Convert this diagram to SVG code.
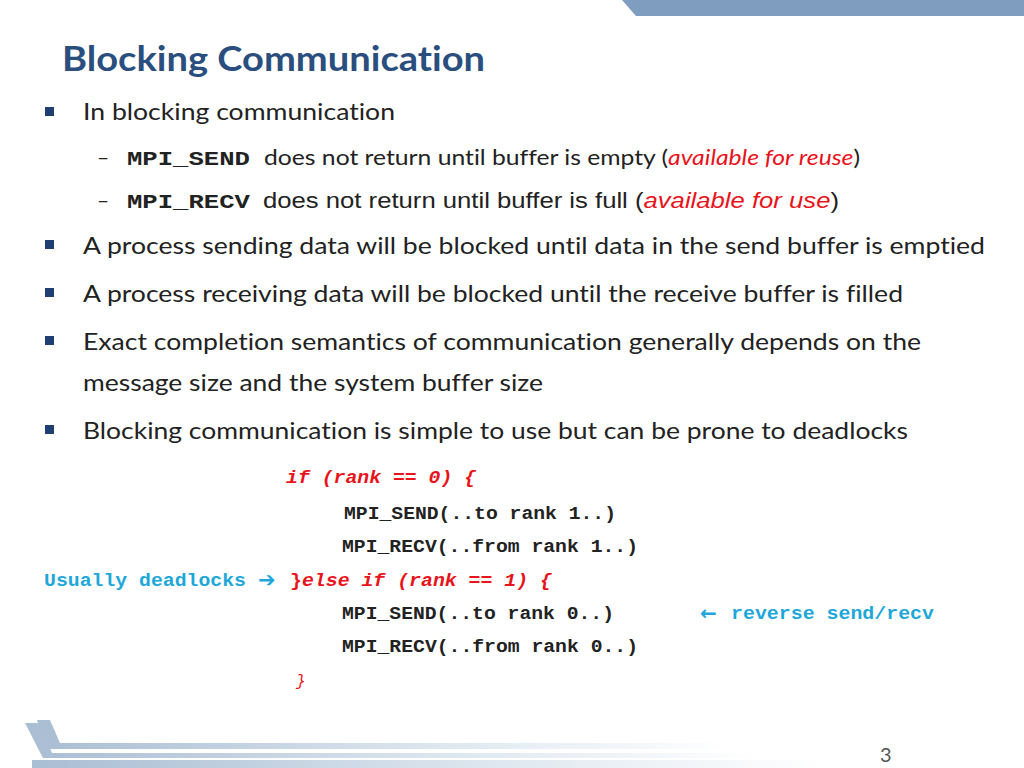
<svg xmlns="http://www.w3.org/2000/svg" width="1024" height="768" viewBox="0 0 1024 768">
<defs>
<linearGradient id="fade" x1="0" y1="0" x2="1" y2="0">
<stop offset="0" stop-color="#a9bdd3"/><stop offset="0.6" stop-color="#dfe8f0"/><stop offset="1" stop-color="#ffffff"/>
</linearGradient>
</defs>
<style>
text{font-variant-ligatures:none}
.b{font-family:Lato,"Open Sans",sans-serif;font-size:24px;fill:#222}
.s{font-family:Lato,"Open Sans",sans-serif;font-size:21px;fill:#222}
.m{font-family:"Liberation Mono",monospace;font-weight:bold;fill:#222}
.r{fill:#e8141b}
.c{fill:#1ea7d8}
.bul{fill:#1f3f73}
</style>
<rect width="1024" height="768" fill="#fff"/>
<polygon points="622,0 1024,0 1024,16 636,16" fill="#7f9dbf"/>
<polygon points="37,720 50,720 60,743 730,743 730,749 46,749" fill="url(#fade)"/>
<polygon points="25,723 40,723 52,753 760,753 760,758 43,758" fill="url(#fade)"/>
<polygon points="32,760 820,760 820,768 32,768" fill="url(#fade)"/>
<text x="62" y="71" font-family="Lato,'Open Sans',sans-serif" font-weight="bold" font-size="34" fill="#2a4f7f" textLength="423" lengthAdjust="spacingAndGlyphs">Blocking Communication</text>
<g id="bullets">
<rect x="45" y="107" width="9" height="9" class="bul"/>
<text x="83" y="120" class="b" textLength="312" lengthAdjust="spacingAndGlyphs">In blocking communication</text>
<text x="97" y="165" class="s">–</text>
<text x="127" y="165" class="m" font-size="21" textLength="123" lengthAdjust="spacingAndGlyphs">MPI_SEND</text>
<text x="264" y="165" class="s" textLength="596" lengthAdjust="spacingAndGlyphs">does not return until buffer is empty (<tspan class="r" font-style="italic">available for reuse</tspan>)</text>
<text x="97" y="208" class="s">–</text>
<text x="127" y="208" class="m" font-size="21" textLength="123" lengthAdjust="spacingAndGlyphs">MPI_RECV</text>
<text x="263" y="208" font-family="'Liberation Sans',Arial,sans-serif" font-size="22" fill="#222" textLength="576" lengthAdjust="spacingAndGlyphs">does not return until buffer is full (<tspan class="r" font-style="italic">available for use</tspan>)</text>
<rect x="45" y="240" width="9" height="9" class="bul"/>
<text x="83" y="254" class="b" textLength="902" lengthAdjust="spacingAndGlyphs">A process sending data will be blocked until data in the send buffer is emptied</text>
<rect x="45" y="288" width="9" height="9" class="bul"/>
<text x="83" y="302" class="b" textLength="820" lengthAdjust="spacingAndGlyphs">A process receiving data will be blocked until the receive buffer is filled</text>
<rect x="45" y="336" width="9" height="9" class="bul"/>
<text x="83" y="350" class="b" textLength="838" lengthAdjust="spacingAndGlyphs">Exact completion semantics of communication generally depends on the</text>
<text x="83" y="391" class="b" textLength="460" lengthAdjust="spacingAndGlyphs">message size and the system buffer size</text>
<rect x="45" y="425" width="9" height="9" class="bul"/>
<text x="83" y="439" class="b" textLength="825" lengthAdjust="spacingAndGlyphs">Blocking communication is simple to use but can be prone to deadlocks</text>
</g>
<g id="code" class="m" font-size="18">
<text x="286" y="483" class="r" font-style="italic" textLength="190" lengthAdjust="spacingAndGlyphs">if (rank == 0) {</text>
<text x="344" y="519" textLength="272" lengthAdjust="spacingAndGlyphs">MPI_SEND(..to rank 1..)</text>
<text x="342" y="552" textLength="296" lengthAdjust="spacingAndGlyphs">MPI_RECV(..from rank 1..)</text>
<text x="44" y="586" class="c" textLength="202" lengthAdjust="spacingAndGlyphs">Usually deadlocks</text>
<text x="258" y="587" class="c" font-family="'DejaVu Sans',sans-serif" font-size="21">➔</text>
<text x="290" y="586" class="r" font-style="italic" textLength="262" lengthAdjust="spacingAndGlyphs"><tspan font-style="normal">}</tspan>else if (rank == 1) {</text>
<text x="342" y="619" textLength="272" lengthAdjust="spacingAndGlyphs">MPI_SEND(..to rank 0..)</text>
<text x="700" y="620" class="c" font-family="'DejaVu Sans',sans-serif" font-size="20" font-weight="bold">←</text>
<text x="731" y="619" class="c" textLength="203" lengthAdjust="spacingAndGlyphs">reverse send/recv</text>
<text x="342" y="652" textLength="296" lengthAdjust="spacingAndGlyphs">MPI_RECV(..from rank 0..)</text>
<text x="296" y="686" class="r" font-style="italic" font-weight="normal" font-size="16">}</text>
</g>
<text x="880" y="762" font-family="Lato,sans-serif" font-size="20" fill="#555">3</text>
</svg>
